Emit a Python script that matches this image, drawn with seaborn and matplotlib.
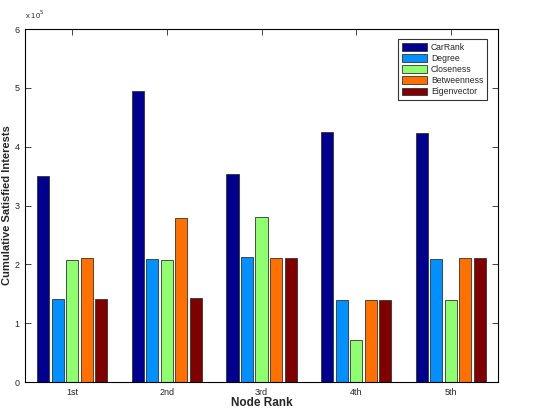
import matplotlib
matplotlib.use("Agg")
import matplotlib.pyplot as plt
import seaborn as sns
import pandas as pd

ranks = ["1st", "2nd", "3rd", "4th", "5th"]
methods = ["CarRank", "Degree", "Closeness", "Betweenness", "Eigenvector"]
carrank = [3.50, 4.94, 3.53, 4.25, 4.24]
degree = [1.41, 2.09, 2.13, 1.39, 2.09]
closeness = [2.08, 2.08, 2.81, 0.71, 1.39]
betweenness = [2.11, 2.79, 2.10, 1.40, 2.11]
eigenvector = [1.41, 1.43, 2.10, 1.39, 2.10]
colors = ["#00008F", "#0090FF", "#8FFF70", "#FF7000", "#800000"]

series = [carrank, degree, closeness, betweenness, eigenvector]
rows = []
for m, vals in zip(methods, series):
    for r, v in zip(ranks, vals):
        rows.append({"rank": r, "method": m, "value": v})
df = pd.DataFrame(rows)

sns.set_style("white")
plt.rcParams['font.family'] = ['Liberation Sans', 'DejaVu Sans']

fig = plt.figure(figsize=(5.38, 4.09), dpi=100)
ax = fig.add_axes([0.0465, 0.066, 0.8792, 0.863])

sns.barplot(data=df, x="rank", y="value", hue="method", hue_order=methods,
            order=ranks, palette=colors, saturation=1, width=0.767, gap=0.17,
            edgecolor="#333333", linewidth=0.6, ax=ax, legend=True)

ax.set_xlim(-0.5, 4.5)
ax.set_ylim(0, 6)
ax.set_yticks(range(0, 7))
ax.set_yticklabels([str(i) for i in range(0, 7)], fontsize=6.5)
ax.set_xticks(range(5))
ax.set_xticklabels(ranks, fontsize=6.5)
ax.tick_params(direction="in", length=4, width=0.6, top=True, right=True,
               bottom=True, left=True, pad=4)
for s in ax.spines.values():
    s.set_color("black")
    s.set_linewidth(0.8)
ax.set_xlabel("Node Rank", fontsize=8.5, fontweight="bold", labelpad=0)
ax.set_ylabel("Cumulative Satisfied Interests", fontsize=8, fontweight="bold", labelpad=2)
ax.text(0.0, 1.022, r"x 10$^5$", transform=ax.transAxes, fontsize=5.5,
        ha="left", va="bottom")

leg = ax.legend(loc="upper right", bbox_to_anchor=(0.985, 0.983), fontsize=6.2,
                frameon=True, fancybox=False, edgecolor="black",
                handlelength=3.0, handleheight=1.0, borderpad=0.4,
                labelspacing=0.25, handletextpad=0.4)
leg.get_frame().set_linewidth(0.8)

fig.savefig("out.png", dpi=100)
